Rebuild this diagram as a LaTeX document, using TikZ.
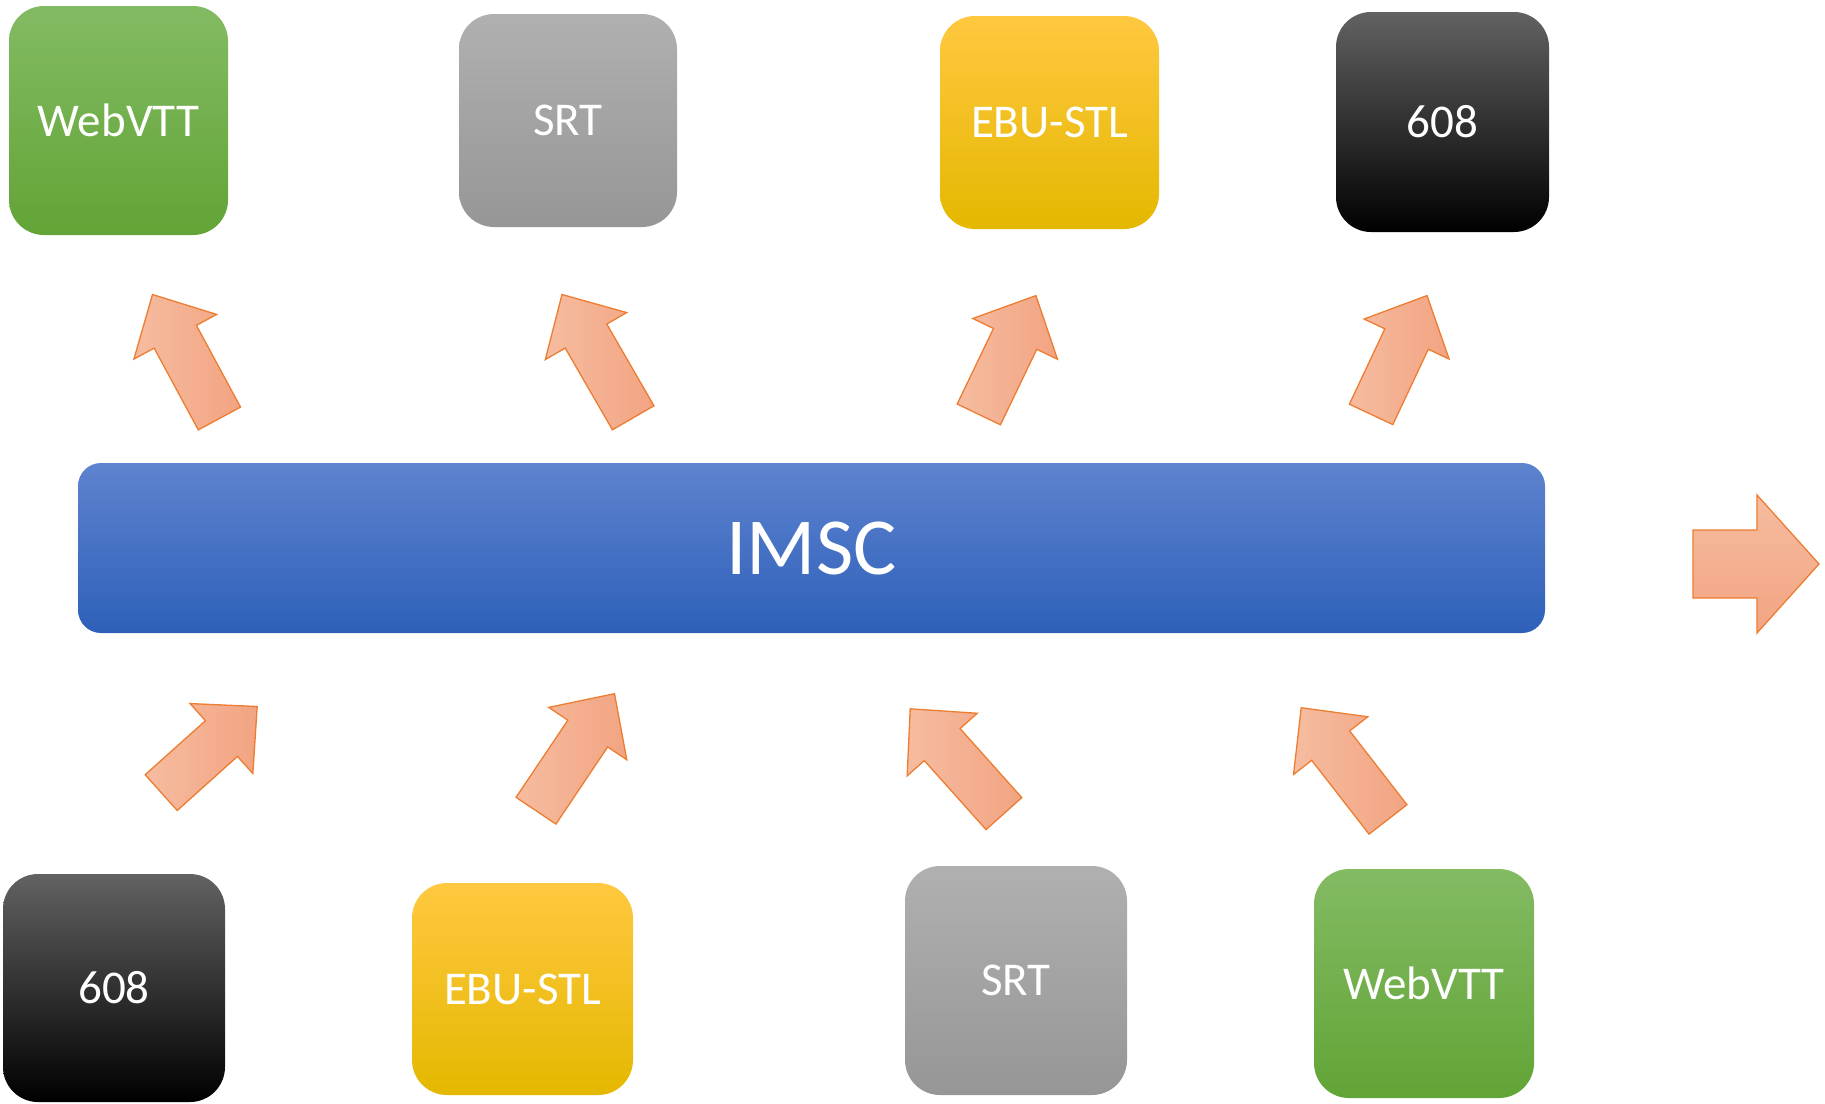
\documentclass[tikz,border=0pt]{standalone}
\usepackage{fontspec}
\setmainfont{Carlito}
\usetikzlibrary{calc}
\definecolor{webtop}{RGB}{131,187,99}
\definecolor{webbot}{RGB}{98,164,54}
\definecolor{srttop}{RGB}{176,176,176}
\definecolor{srtbot}{RGB}{150,150,150}
\definecolor{ebutop}{RGB}{255,200,64}
\definecolor{ebumid}{RGB}{255,198,0}
\definecolor{ebubot}{RGB}{228,184,0}
\definecolor{cctop}{RGB}{98,98,98}
\definecolor{ccmid}{RGB}{8,8,8}
\definecolor{imsctop}{RGB}{94,131,207}
\definecolor{imscmid}{RGB}{62,111,200}
\definecolor{imscbot}{RGB}{46,96,185}
\definecolor{arrowlight}{RGB}{246,188,160}
\definecolor{arrowdark}{RGB}{242,164,130}
\definecolor{arrowedge}{RGB}{237,125,49}
\tikzset{
	fmt/.style={rounded corners=35pt, inner sep=0pt, text=white, font=\fontsize{47}{50}\selectfont},
	webvtt/.style={fmt, top color=webtop, bottom color=webbot},
	srt/.style={fmt, top color=srttop, bottom color=srtbot},
	ebu/.style={fmt, top color=ebutop, middle color=ebumid, bottom color=ebubot},
	cc/.style={fmt, top color=cctop, middle color=ccmid, bottom color=black},
	imsc/.style={rounded corners=23pt, inner sep=0pt, text=white, font=\fontsize{81}{84}\selectfont,
		top color=imsctop, middle color=imscmid, bottom color=imscbot},
	barrow/.style={draw=arrowedge, line width=1.3pt, line join=miter, left color=arrowlight, right color=arrowdark}
}
\begin{document}
\begin{tikzpicture}[x=1pt,y=-1pt]
		\useasboundingbox (0,0) rectangle (1825,1103);
		% output formats
		\node[webvtt, minimum width=219pt, minimum height=229pt] (webout) at (118.5,120.5) {WebVTT};
		\node[srt, minimum width=218pt, minimum height=213pt] (srtout) at (568,120.5) {SRT};
		\node[ebu, minimum width=219pt, minimum height=213pt] (ebuout) at (1049.5,122.5) {EBU-STL};
		\node[cc, minimum width=213pt, minimum height=220pt] (ccout) at (1442.5,122) {608};
		% hub
		\node[imsc, minimum width=1467pt, minimum height=170pt] (imsc) at (811.5,548) {IMSC};
		% input formats
		\node[cc, minimum width=222pt, minimum height=228pt] (ccin) at (114,988) {608};
		\node[ebu, minimum width=221pt, minimum height=212pt] (ebuin) at (522.5,989) {EBU-STL};
		\node[srt, minimum width=222pt, minimum height=229pt] (srtin) at (1016,980.5) {SRT};
		\node[webvtt, minimum width=220pt, minimum height=229pt] (webin) at (1424,983.5) {WebVTT};
		% block arrows: tail -- tip
		\foreach \tx/\ty/\hx/\hy in {219.4/418.5/152.5/294.5, 633.2/417.8/562/294.5,
			978.8/414.4/1035.9/295.6, 1371.1/414.4/1427/295.6,
			161.2/792.6/257.2/706.5, 536/810.7/614.5/693.7,
			1003.9/813.6/910.2/708.8, 1388/819.4/1301.2/707.7}{
			\coordinate (t) at (\tx,\ty);
			\coordinate (h) at (\hx,\hy);
			\coordinate (n) at ($(h)!48pt!(t)$);
			\draw[barrow] ($(t)!24pt!90:(h)$)--($(n)!24pt!90:(h)$)--($(n)!47pt!90:(h)$)--(h)
				--($(n)!47pt!-90:(h)$)--($(n)!24pt!-90:(h)$)--($(t)!24pt!-90:(h)$)--cycle;
		}
		% output arrow
		\draw[barrow, top color=arrowlight, bottom color=arrowdark] (1693,530)--(1757,530)--(1757,495)--(1819,564)
			--(1757,633)--(1757,598)--(1693,598)--cycle;
\end{tikzpicture}
\end{document}
